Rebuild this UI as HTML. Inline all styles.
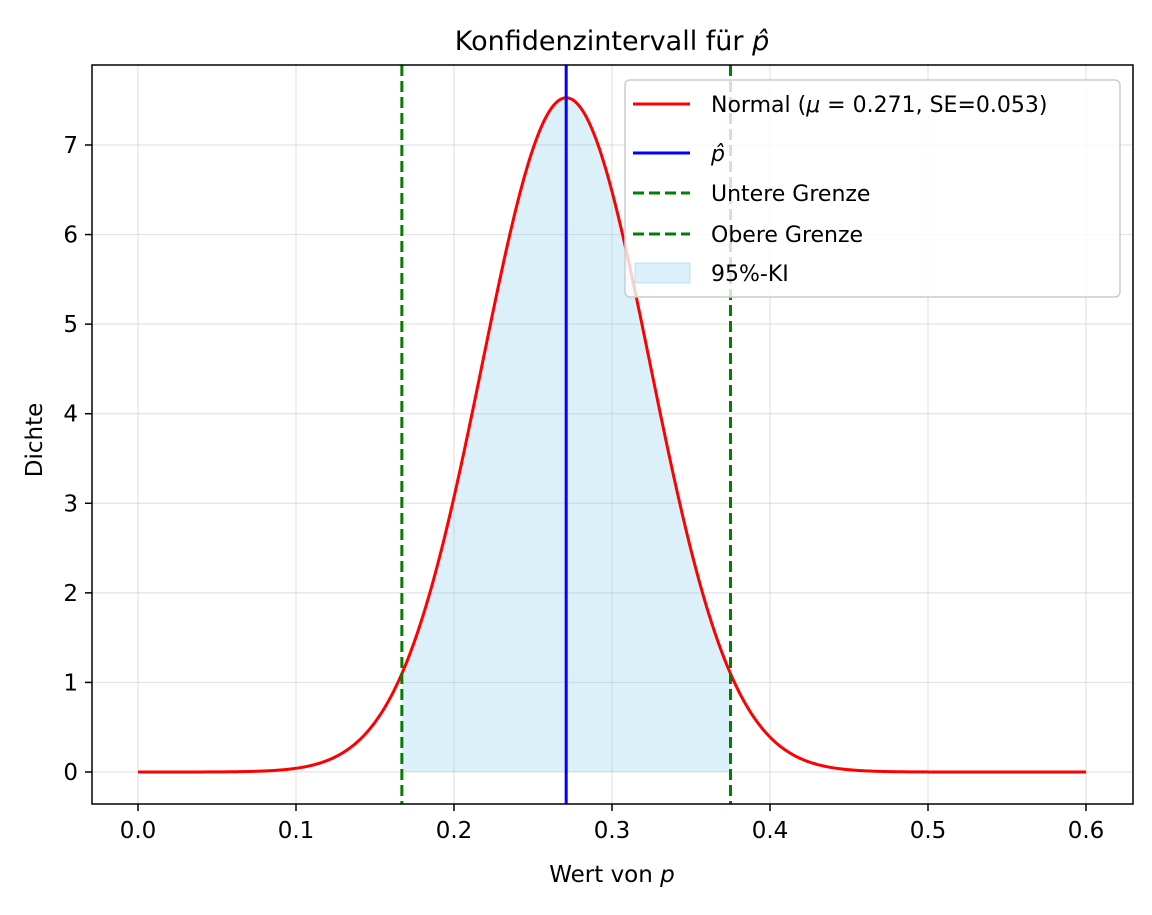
<!DOCTYPE html>
<html><head><meta charset="utf-8"><style>
body{margin:0;background:#fff}
svg text{font-family:"DejaVu Sans","Liberation Sans",sans-serif;fill:#000}
</style></head><body>
<svg id="chart" width="1152" height="910" xmlns="http://www.w3.org/2000/svg">
<g id="grid"></g>
<g id="fill"></g>
<g id="lines"></g>
<rect x="92" y="65" width="1041" height="739" fill="none" stroke="#000" stroke-width="1.5"/>
<g id="ticks"></g>
<text x="612" y="50" font-size="27" text-anchor="middle">Konfidenzintervall für <tspan font-style="italic">p̂</tspan></text>
<text x="612" y="882" font-size="23" text-anchor="middle">Wert von <tspan font-style="italic">p</tspan></text>
<text transform="translate(42,440) rotate(-90)" font-size="23" text-anchor="middle">Dichte</text>
<g>
<rect x="625" y="80" width="495" height="217" rx="5" fill="#fff" fill-opacity="0.8" stroke="#ccc" stroke-width="1.5"/>
<line x1="633" y1="104" x2="690" y2="104" stroke="red" stroke-width="3"/>
<text x="711" y="112" font-size="22">Normal (<tspan font-style="italic">μ</tspan> = 0.271, SE=0.053)</text>
<line x1="633" y1="153" x2="690" y2="153" stroke="blue" stroke-width="3"/>
<text x="711" y="161" font-size="22" font-style="italic">p̂</text>
<line x1="633" y1="193" x2="690" y2="193" stroke="green" stroke-width="3" stroke-dasharray="11,5"/>
<text x="711" y="201" font-size="22">Untere Grenze</text>
<line x1="633" y1="234" x2="690" y2="234" stroke="green" stroke-width="3" stroke-dasharray="11,5"/>
<text x="711" y="242" font-size="22">Obere Grenze</text>
<rect x="635" y="263" width="55" height="20" fill="skyblue" fill-opacity="0.3" stroke="skyblue" stroke-opacity="0.5"/>
<text x="711" y="281" font-size="22">95%-KI</text>
</g>
</svg>
<script>
const mu=[0.271];
const se=[0.053];
const ciBounds=[0.167,0.375];
const xTicks=[0,0.1,0.2,0.3,0.4,0.5,0.6];
const yTicks=[0,1,2,3,4,5,6,7];
const xDomain=[0,0.6];
const NS='http://www.w3.org/2000/svg';
const X=v=>138+(v-0)*(1086-138)/0.6;
const Y=v=>772-v*(772-145)/7;
const pdf=x=>Math.exp(-0.5*((x-mu[0])/se[0])**2)/(se[0]*Math.sqrt(2*Math.PI));
function mk(t,a,p){const e=document.createElementNS(NS,t);for(const k in a)e.setAttribute(k,a[k]);p.appendChild(e);return e;}
const grid=document.getElementById('grid'),ticks=document.getElementById('ticks');
xTicks.forEach(t=>{
 const g=mk('line',{x1:X(t),x2:X(t),y1:65,y2:804,stroke:'#b0b0b0','stroke-opacity':0.35,'stroke-width':1.2},grid);
 
 
 mk('line',{x1:X(t),x2:X(t),y1:804,y2:811,stroke:'#000','stroke-width':1.5},ticks);
 const tx=mk('text',{x:X(t),y:838,'font-size':23,'text-anchor':'middle'},ticks);
 tx.textContent=t.toFixed(1);
 
 
});
yTicks.forEach(t=>{
 const g=mk('line',{x1:92,x2:1133,y1:Y(t),y2:Y(t),stroke:'#b0b0b0','stroke-opacity':0.35,'stroke-width':1.2},grid);
 
 
 mk('line',{x1:85,x2:92,y1:Y(t),y2:Y(t),stroke:'#000','stroke-width':1.5},ticks);
 const tx=mk('text',{x:78,y:Y(t)+8,'font-size':23,'text-anchor':'end'},ticks);
 tx.textContent=String(t);
 
 
});
// fill
let fp=`M${X(ciBounds[0])},${Y(0)}`;
for(let i=0;i<=200;i++){const x=ciBounds[0]+(ciBounds[1]-ciBounds[0])*i/200;fp+=`L${X(x)},${Y(pdf(x))}`;}
fp+=`L${X(ciBounds[1])},${Y(0)}Z`;
const f=mk('path',{d:fp,fill:'skyblue','fill-opacity':0.3},document.getElementById('fill'));


const L=document.getElementById('lines');
let cp='';
for(let i=0;i<=600;i++){const x=xDomain[0]+(xDomain[1]-xDomain[0])*i/600;cp+=(i?'L':'M')+X(x)+','+Y(pdf(x));}
const c=mk('path',{d:cp,fill:'none',stroke:'red','stroke-width':3},L);


ciBounds.forEach((b,i)=>{
 const l=mk('line',{x1:X(b),x2:X(b),y1:65,y2:804,stroke:'green','stroke-width':3,'stroke-dasharray':'11,5'},L);
 
 
});
const m=mk('line',{x1:X(mu[0]),x2:X(mu[0]),y1:65,y2:804,stroke:'blue','stroke-width':3},L);


</script>
</body></html>
